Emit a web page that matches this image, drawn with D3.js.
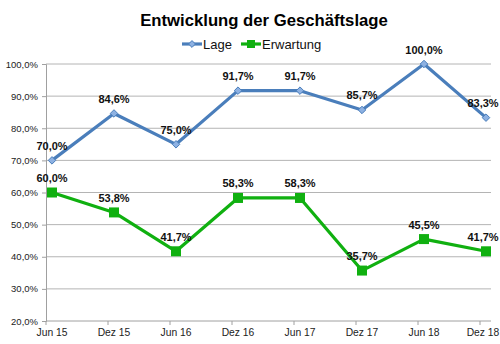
<!DOCTYPE html>
<html>
<head>
<meta charset="utf-8">
<script src="https://cdn.jsdelivr.net/npm/d3@7"></script>
<style>
  html, body { margin: 0; padding: 0; background: #fff; }
  svg { display: block; font-family: "Liberation Sans", Arial, sans-serif; }
</style>
</head>
<body>
<svg id="chart" width="500" height="344"></svg>
<script>
// Half-year periods and survey results (percent)
const categories = ["Jun 15", "Dez 15", "Jun 16", "Dez 16", "Jun 17", "Dez 17", "Jun 18", "Dez 18"];
const lage = [70.0, 84.6, 75.0, 91.7, 91.7, 85.7, 100.0, 83.3];
const erwartung = [60.0, 53.8, 41.7, 58.3, 58.3, 35.7, 45.5, 41.7];
const yTicks = [20, 30, 40, 50, 60, 70, 80, 90, 100];
const seriesNames = ["Lage", "Erwartung"];

const W = 500, H = 344;
const svg = d3.select("#chart");
const fmt = v => d3.format(".1f")(v).replace(".", ",") + "%";

const plotLeft = 46, plotRight = 491;
const x = d3.scalePoint().domain(categories).range([52, 486]);
const y = d3.scaleLinear().domain([20, 100]).range([321, 64]);

// horizontal gridlines
svg.append("g")
  .selectAll("line")
  .data(yTicks.filter(t => t > 20))
  .join("line")
  .attr("x1", plotLeft).attr("x2", plotRight)
  .attr("y1", d => y(d)).attr("y2", d => y(d))
  .attr("stroke", "#b4b4b4").attr("stroke-width", 1);

// y axis
const yAxis = svg.append("g")
  .attr("transform", `translate(${plotLeft},0)`)
  .call(d3.axisLeft(y).tickValues(yTicks).tickFormat(d => d3.format(".1f")(d).replace(".", ",") + "%").tickSize(4).tickPadding(4));
yAxis.select(".domain").attr("stroke", "#a0a0a0");
yAxis.selectAll(".tick line").attr("stroke", "#a0a0a0");
yAxis.selectAll(".tick text").attr("font-size", 9.5).attr("fill", "#222")
  .attr("font-family", "Liberation Sans, Arial, sans-serif");

// x axis: ticks sit at category boundaries, labels under each point
const xg = svg.append("g").attr("transform", `translate(0,${y(20)})`);
xg.append("line").attr("x1", plotLeft).attr("x2", plotRight).attr("y1", 0).attr("y2", 0)
  .attr("stroke", "#a0a0a0");
xg.selectAll("line.tk")
  .data(categories)
  .join("line").attr("class", "tk")
  .attr("x1", d => x(d) - 6).attr("x2", d => x(d) - 6)
  .attr("y1", 0).attr("y2", 4)
  .attr("stroke", "#a0a0a0");
xg.selectAll("text")
  .data(categories)
  .join("text")
  .attr("x", d => Math.min(x(d), W - 17))
  .attr("y", 15)
  .attr("text-anchor", "middle")
  .attr("font-size", 10.3).attr("fill", "#222")
  .text(d => d);

const blue = "#4a7ebb", blueFill = "#8db1e2";
const green = "#10b010";

const line = d3.line().x((d, i) => x(categories[i])).y(d => y(d));

function drawSeries(values, color, shape, fill) {
  const g = svg.append("g");
  g.append("path").datum(values)
    .attr("d", line).attr("fill", "none")
    .attr("stroke", color).attr("stroke-width", 3.2).attr("stroke-linejoin", "round");
  g.selectAll("path.m")
    .data(values)
    .join("path").attr("class", "m")
    .attr("transform", (d, i) => `translate(${x(categories[i])},${y(d)})`)
    .attr("d", d3.symbol().type(shape).size(shape === d3.symbolSquare ? 100 : 36)())
    .attr("fill", fill).attr("stroke", shape === d3.symbolSquare ? "none" : color)
    .attr("stroke-width", 1);
  // value labels above each point, kept inside the canvas
  g.selectAll("text")
    .data(values)
    .join("text")
    .attr("x", (d, i) => Math.min(x(categories[i]), W - 17))
    .attr("y", d => y(d) - 10.5)
    .attr("text-anchor", "middle")
    .attr("font-size", 11).attr("font-weight", "bold").attr("fill", "#111")
    .text(d => fmt(d));
}

drawSeries(lage, blue, d3.symbolDiamond2, blueFill);
drawSeries(erwartung, green, d3.symbolSquare, green);

// title
svg.append("text")
  .attr("x", 264).attr("y", 26)
  .attr("text-anchor", "middle")
  .attr("font-size", 16.7).attr("font-weight", "bold").attr("fill", "#000")
  .text("Entwicklung der Geschäftslage");

// legend
const legend = [
  { name: seriesNames[0], color: blue, fill: blueFill, shape: d3.symbolDiamond2, x0: 182 },
  { name: seriesNames[1], color: green, fill: green, shape: d3.symbolSquare, x0: 241 }
];
const lg = svg.append("g");
legend.forEach(l => {
  lg.append("line").attr("x1", l.x0).attr("x2", l.x0 + 20).attr("y1", 44).attr("y2", 44)
    .attr("stroke", l.color).attr("stroke-width", 3.2);
  lg.append("path")
    .attr("transform", `translate(${l.x0 + 10},44)`)
    .attr("d", d3.symbol().type(l.shape).size(l.shape === d3.symbolSquare ? 64 : 30)())
    .attr("fill", l.fill).attr("stroke", l.shape === d3.symbolSquare ? "none" : l.color);
  lg.append("text").attr("x", l.x0 + 21).attr("y", 48.5)
    .attr("font-size", 13).attr("fill", "#111").text(l.name);
});
</script>
</body>
</html>
